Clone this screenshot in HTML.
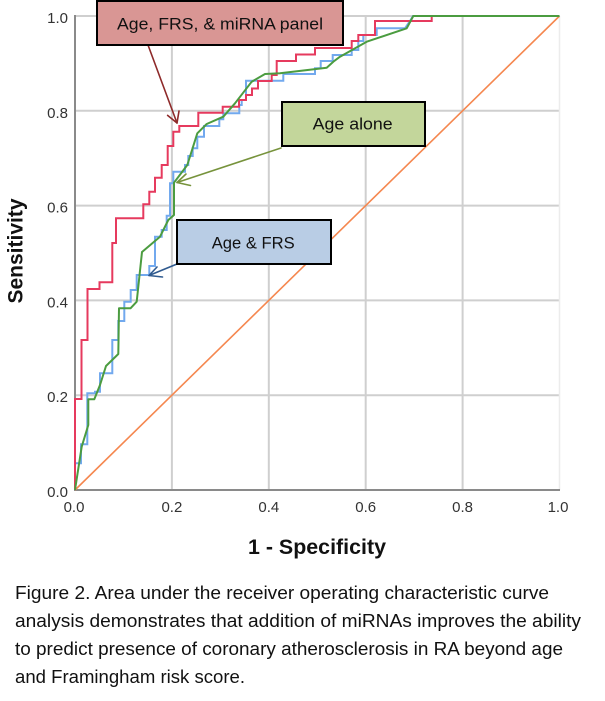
<!DOCTYPE html>
<html>
<head>
<meta charset="utf-8">
<style>
  html, body { margin: 0; padding: 0; background: #ffffff; }
  svg { display: block; }
</style>
</head>
<body>
<svg width="605" height="701" viewBox="0 0 605 701" xmlns="http://www.w3.org/2000/svg">
  <rect x="0" y="0" width="605" height="701" fill="#ffffff"/>

  <!-- grid lines -->
  <g stroke="#cfcfcf" stroke-width="2" fill="none">
    <line x1="171.9" y1="16" x2="171.9" y2="490"/>
    <line x1="268.8" y1="16" x2="268.8" y2="490"/>
    <line x1="365.7" y1="16" x2="365.7" y2="490"/>
    <line x1="462.6" y1="16" x2="462.6" y2="490"/>
    <line x1="75" y1="395.2" x2="559.5" y2="395.2"/>
    <line x1="75" y1="300.4" x2="559.5" y2="300.4"/>
    <line x1="75" y1="205.6" x2="559.5" y2="205.6"/>
    <line x1="75" y1="110.8" x2="559.5" y2="110.8"/>
    <line x1="75" y1="16" x2="559.5" y2="16"/>
  </g>
  <line x1="559.5" y1="16" x2="559.5" y2="490" stroke="#ececec" stroke-width="1.5"/>

  <!-- axes -->
  <line x1="75" y1="15" x2="75" y2="491" stroke="#8a8a8a" stroke-width="2"/>
  <line x1="74" y1="490" x2="560" y2="490" stroke="#8a8a8a" stroke-width="2"/>

  <!-- tick labels -->
  <g font-family="Liberation Sans, Arial, sans-serif" font-size="15" fill="#333333">
    <text x="68" y="23" text-anchor="end">1.0</text>
    <text x="68" y="117.8" text-anchor="end">0.8</text>
    <text x="68" y="212.6" text-anchor="end">0.6</text>
    <text x="68" y="307.4" text-anchor="end">0.4</text>
    <text x="68" y="402.2" text-anchor="end">0.2</text>
    <text x="68" y="497" text-anchor="end">0.0</text>

    <text x="74" y="512" text-anchor="middle">0.0</text>
    <text x="171.9" y="512" text-anchor="middle">0.2</text>
    <text x="268.8" y="512" text-anchor="middle">0.4</text>
    <text x="365.7" y="512" text-anchor="middle">0.6</text>
    <text x="462.6" y="512" text-anchor="middle">0.8</text>
    <text x="558" y="512" text-anchor="middle">1.0</text>
  </g>

  <!-- axis titles -->
  <text x="248" y="554" font-family="Liberation Sans, Arial, sans-serif" font-size="21" font-weight="bold" fill="#111111" textLength="138" lengthAdjust="spacingAndGlyphs">1 - Specificity</text>
  <text transform="translate(22.5,251) rotate(-90)" text-anchor="middle" font-family="Liberation Sans, Arial, sans-serif" font-size="21" font-weight="bold" fill="#111111">Sensitivity</text>

  <!-- diagonal reference -->
  <line x1="75" y1="490" x2="559.5" y2="16" stroke="#f5874f" stroke-width="1.6"/>

  <!-- Blue: Age & FRS -->
  <polyline fill="none" stroke="#72a9ee" stroke-width="2" stroke-linejoin="miter" points="75,490 75,463.3 81,463.3 81,444.3 87.3,444.3 87.3,393.3 95,393.3 95,391.7 100,391.7 100,373.3 112.3,373.3 112.3,340 118.3,340 118.3,321 124.3,321 124.3,301.7 130.7,301.7 130.7,290 136.7,290 136.7,275 149.3,275 149.3,266 155,266 155,236.7 161.7,236.7 161.7,230 166.7,230 166.7,215.7 170,215.7 170,183.3 173.3,183.3 173.3,171.7 185,171.7 185,165 188.3,165 188.3,156 192.7,156 192.7,148.3 197.3,148.3 197.3,136.7 204,136.7 204,126 219.3,126 219.3,119.3 223.3,119.3 223.3,113.3 239.3,113.3 239.3,105 241.7,105 241.7,100 246,100 246,80.7 283.3,80.7 283.3,74 315,74 315,68.3 320.7,68.3 320.7,61 332.7,61 332.7,55 351.7,55 351.7,50 358.3,50 358.3,41 363.3,41 363.3,35 376.7,35 376.7,28.3 405,28.3 410,21 413,16 559.5,16"/>

  <!-- Red: Age, FRS & miRNA panel -->
  <polyline fill="none" stroke="#e63a5e" stroke-width="2" stroke-linejoin="miter" points="75,490 75,399 81.5,399 81.5,340 87.5,340 87.5,289 99.5,289 99.5,282.3 112.3,282.3 112.3,243 116,243 116,218.3 143.3,218.3 143.3,204.3 149.3,204.3 149.3,191.7 155,191.7 155,177.7 161.7,177.7 161.7,165 167.7,165 167.7,146 173.3,146 173.3,131.7 179.3,131.7 179.3,126 198.3,126 198.3,112.7 222.7,112.7 222.7,106.7 239,106.7 239,100 246,100 246,95 252,95 252,88.5 258,88.5 258,81 271.7,81 271.7,75 276.7,75 276.7,61 296,61 296,54.5 315,54.5 315,48 351.7,48 351.7,41 358.3,41 358.3,35 375,35 375,21 431.7,21 431.7,16 559.5,16"/>

  <!-- Green: Age alone -->
  <polyline fill="none" stroke="#4b9c40" stroke-width="2" stroke-linejoin="round" points="75,490 81.7,446.7 88.3,425 88.3,399.3 94.3,399.3 100,385 106,366 118.3,354 119,308.3 130.5,308.3 136.7,301.7 142,252 160,236.7 168.3,220 174,215 174,182.7 187.3,165 197.3,133.3 206.7,124 223.3,116.7 235,103.3 251.7,81.7 265,74 280,73.3 326.7,67.7 333.3,61.7 340,56.7 366.7,41.7 406.7,28.3 413.3,16 559.5,16"/>

  <!-- Arrows -->
  <g fill="none" stroke-width="1.6" stroke-linecap="round" stroke-linejoin="round">
    <g stroke="#8e2a2a">
      <line x1="148" y1="45" x2="177" y2="123"/>
      <polyline points="167.6,115.4 177,123 179,111"/>
    </g>
    <g stroke="#77933c">
      <line x1="281" y1="148" x2="177" y2="182.5"/>
      <polyline points="190.5,185.5 177,182.5 186,174"/>
    </g>
    <g stroke="#2f5a8f">
      <line x1="177" y1="264" x2="149" y2="275.5"/>
      <polyline points="162.5,277 149,275.5 157,267"/>
    </g>
  </g>

  <!-- Label boxes -->
  <g stroke="#000000" stroke-width="2">
    <rect x="97" y="1" width="246" height="44" fill="#d99694"/>
    <rect x="282" y="102" width="143" height="44" fill="#c3d69b"/>
    <rect x="177" y="220" width="154" height="44" fill="#b9cde5"/>
  </g>
  <g font-family="Liberation Sans, Arial, sans-serif" font-size="17" fill="#111111">
    <text x="117" y="29.5" textLength="206" lengthAdjust="spacingAndGlyphs">Age, FRS, &amp; miRNA panel</text>
    <text x="312.7" y="129.5" textLength="80" lengthAdjust="spacingAndGlyphs">Age alone</text>
    <text x="211.7" y="248.5" textLength="83" lengthAdjust="spacingAndGlyphs">Age &amp; FRS</text>
  </g>

  <!-- Caption -->
  <g font-family="Liberation Sans, Arial, sans-serif" font-size="18" fill="#111111">
    <text x="15" y="599" textLength="534" lengthAdjust="spacingAndGlyphs">Figure 2. Area under the receiver operating characteristic curve</text>
    <text x="15" y="627" textLength="566" lengthAdjust="spacingAndGlyphs">analysis demonstrates that addition of miRNAs improves the ability</text>
    <text x="15" y="655" textLength="548" lengthAdjust="spacingAndGlyphs">to predict presence  of coronary atherosclerosis in RA beyond age</text>
    <text x="15" y="683" textLength="230" lengthAdjust="spacingAndGlyphs">and Framingham risk score.</text>
  </g>
</svg>
</body>
</html>
